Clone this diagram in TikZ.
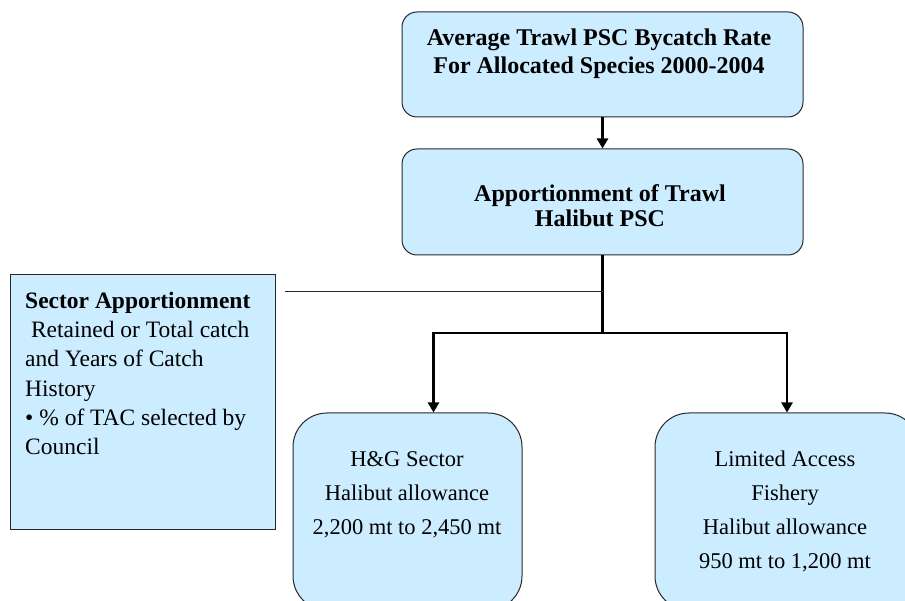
\documentclass[tikz,border=0pt]{standalone}
\usepackage{fontspec}
\setmainfont{Liberation Serif}
\usetikzlibrary{arrows.meta}
\definecolor{boxblue}{RGB}{204,236,255}
\definecolor{edgegray}{RGB}{40,40,40}
\begin{document}
\begin{tikzpicture}[x=1pt,y=-1pt,
  rbox/.style={draw=edgegray, line width=1pt, fill=boxblue, rounded corners=15pt, inner sep=0pt},
  bigbox/.style={draw=edgegray, line width=1pt, fill=boxblue, rounded corners=34pt, inner sep=0pt},
  sqbox/.style={draw=edgegray, line width=1pt, fill=boxblue, inner sep=0pt},
  flow/.style={line width=2.6pt, black},
  tip/.style={-{Triangle[width=11pt,length=10pt]}},
  headtxt/.style={align=center, inner sep=0pt, anchor=north, font=\fontsize{24}{28}\selectfont\bfseries},
  bodytxt/.style={align=center, inner sep=0pt, anchor=north, font=\fontsize{22.5}{34}\selectfont},
  sidetxt/.style={align=left, inner sep=0pt, anchor=north west, font=\fontsize{23.5}{29.2}\selectfont},
]
\useasboundingbox (0,0) rectangle (905,601);
\clip (0,0) rectangle (905,601);
% boxes
\node[rbox, minimum width=401pt, minimum height=105pt] (avg) at (602.5,64.5) {};
\node[rbox, minimum width=401pt, minimum height=106pt] (app) at (602.5,202) {};
\node[sqbox, minimum width=265pt, minimum height=254pt] (sec) at (142.5,402) {};
\node[bigbox, minimum width=229pt, minimum height=197pt] (hg) at (407.5,511.5) {};
\node[bigbox, minimum width=264pt, minimum height=197pt] (la) at (787,511.5) {};
% texts
\node[headtxt] (avgtxt) at (599,29) {Average Trawl PSC Bycatch Rate\\ For Allocated Species 2000-2004};
\node[headtxt, font=\fontsize{24}{25}\selectfont\bfseries] (apptxt) at (600,184) {Apportionment of Trawl\\Halibut PSC};
\node[sidetxt] (sectxt) at (25,292) {\textbf{Sector Apportionment}\\
\ Retained or Total catch\\and Years of Catch\\History\\• \% of TAC selected by\\Council};
\node[bodytxt] (hgtxt) at (407,451) {H\&G Sector\\Halibut allowance\\2,200 mt to 2,450 mt};
\node[bodytxt] (latxt) at (785,451) {Limited Access\\Fishery\\ Halibut allowance\\950 mt to 1,200 mt};
% connectors
\coordinate (junc) at (602.5,333);
\coordinate (thinend) at (285,292);
\draw[flow, tip] (avg.south) -- (app.north);
\draw[flow] (app.south) -- (junc);
\draw[flow, tip] (junc) -| ([xshift=26pt]hg.north);
\draw[flow, tip] (junc) -| (la.north);
\draw[line width=1pt, edgegray] (thinend) -- (thinend -| junc);
\end{tikzpicture}
\end{document}
